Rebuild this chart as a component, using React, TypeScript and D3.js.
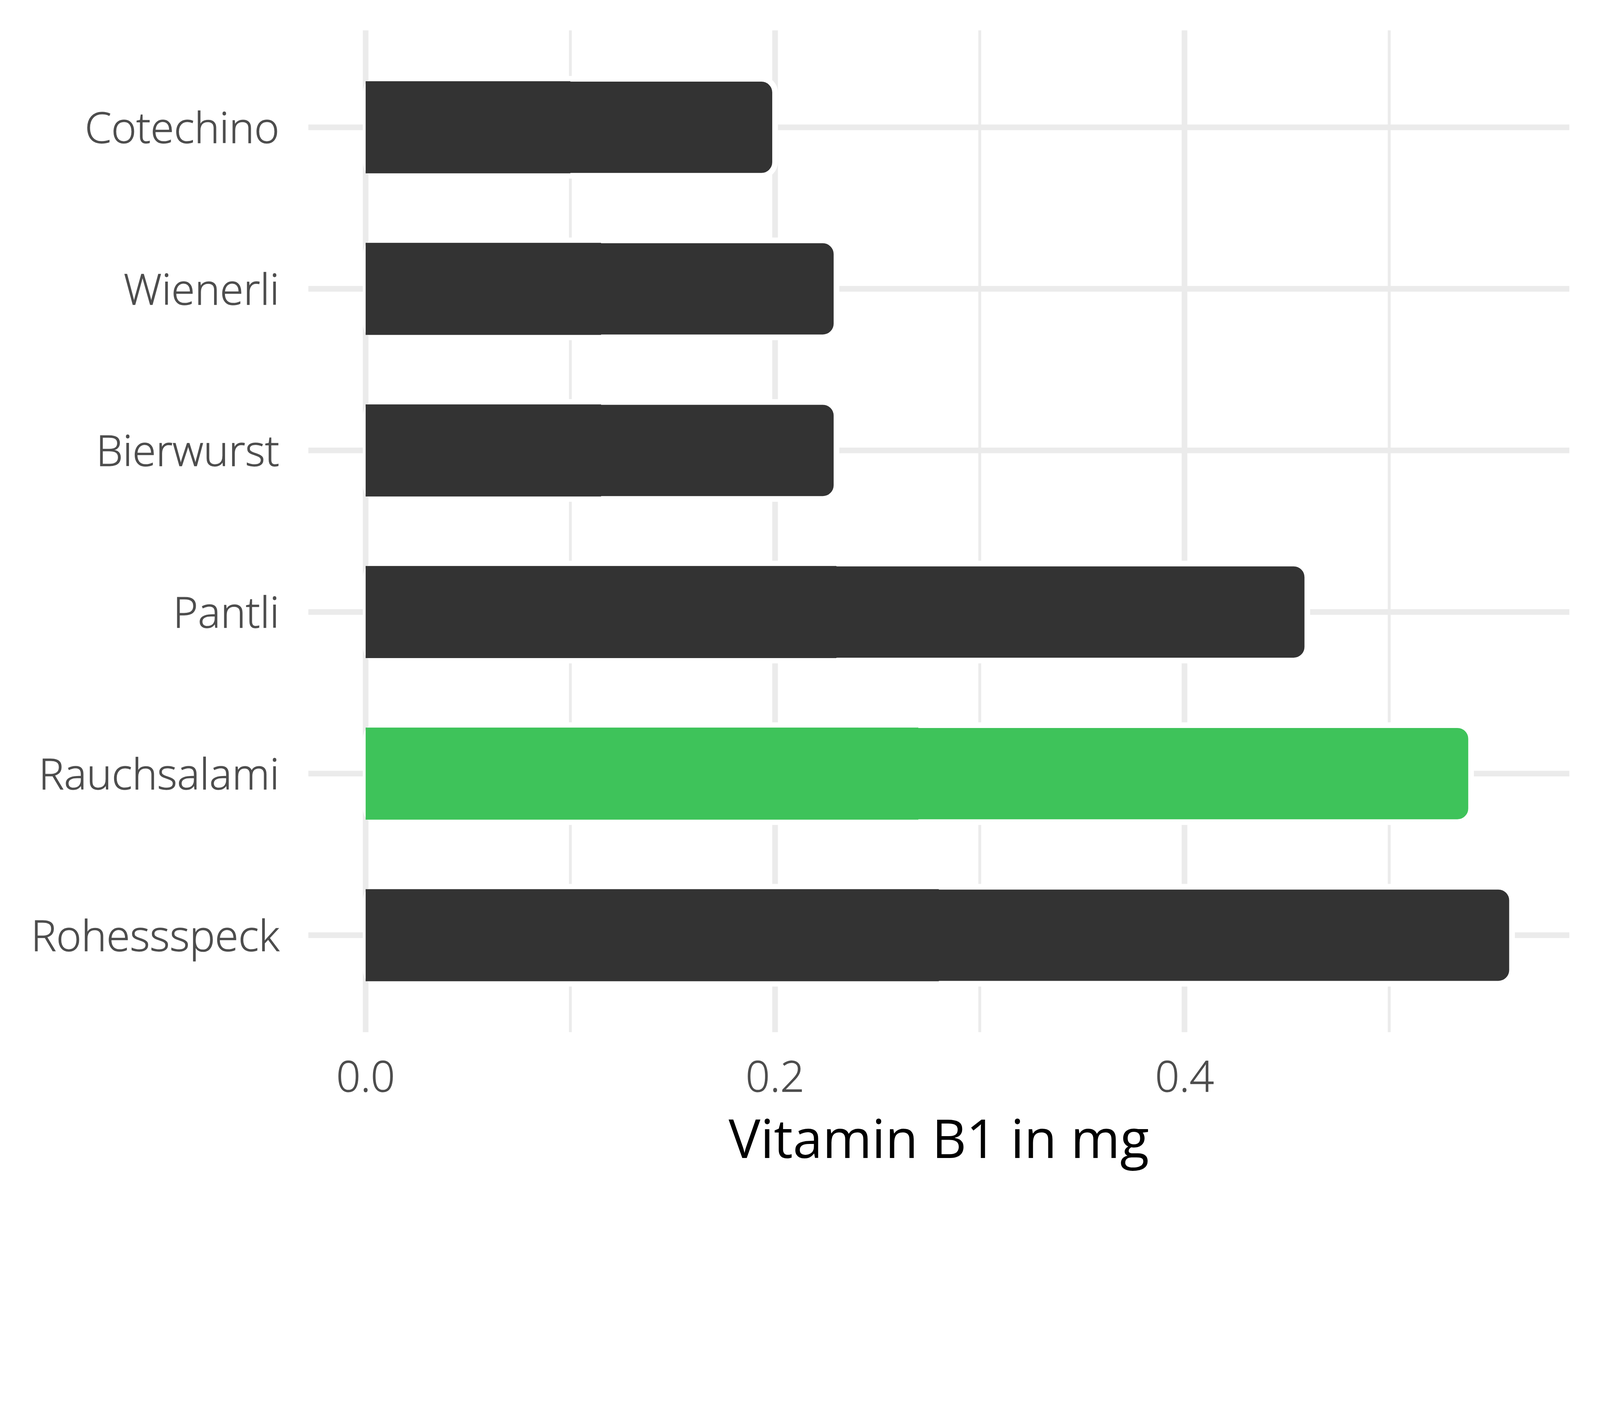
import React from "react";
import * as d3 from "d3";

const categories = ["Cotechino", "Wienerli", "Bierwurst", "Pantli", "Rauchsalami", "Rohessspeck"];
const values = [0.2, 0.23, 0.23, 0.46, 0.54, 0.56];
const highlight = ["Rauchsalami"];
const majorTicks = [0, 0.2, 0.4];
const minorTicks = [0.1, 0.3, 0.5];
const xTitle = "Vitamin B1 in mg";

const W = 4800;
const H = 3600;
const panel = { left: 925, right: 4708, top: 91, bottom: 3097 };
const FONT = "'Open Sans', 'Noto Sans', sans-serif";

export default function App() {
  const maxV = d3.max(values) as number;
  const pad = maxV * 0.05;
  const x = d3.scaleLinear().domain([-pad, maxV + pad]).range([panel.left, panel.right]);
  const y = d3.scalePoint<string>().domain(categories).range([panel.top, panel.bottom]).padding(0.6);
  const step = y.step();
  const barH = step * 0.6;
  const sw = 17;
  const rx = 41;
  const x0 = x(0);

  return (
    <svg
      viewBox={`0 0 ${W} ${H}`}
      preserveAspectRatio="xMinYMin meet"
      style={{ position: "fixed", left: 0, top: 0, width: "100vw", height: "100vh", background: "#fff", display: "block" }}
    >
      <rect x={0} y={0} width={W} height={H} fill="#ffffff" />
      {minorTicks.map((t) => (
        <line key={"mi" + t} x1={x(t)} x2={x(t)} y1={panel.top} y2={panel.bottom} stroke="#EBEBEB" strokeWidth={8.5} />
      ))}
      {majorTicks.map((t) => (
        <line key={"ma" + t} x1={x(t)} x2={x(t)} y1={panel.top} y2={panel.bottom} stroke="#EBEBEB" strokeWidth={17} />
      ))}
      {categories.map((c) => (
        <line key={"h" + c} x1={panel.left} x2={panel.right} y1={y(c)} y2={y(c)} stroke="#EBEBEB" strokeWidth={17} />
      ))}
      {categories.map((c, i) => {
        const cy = y(c) as number;
        const xe = x(values[i]);
        const fill = highlight.includes(c) ? "#3EC35A" : "#333333";
        const innerHalf = barH / 2 - sw / 2 + 1.2;
        return (
          <g key={"b" + c}>
            <rect x={x0} y={cy - barH / 2} width={xe - x0} height={barH} rx={rx} ry={rx} fill={fill} stroke="#ffffff" strokeWidth={sw} />
            <rect x={x0} y={cy - innerHalf} width={(xe - x0) / 2} height={innerHalf * 2} fill={fill} />
          </g>
        );
      })}
      {categories.map((c) => (
        <text key={"t" + c} x={838} y={(y(c) as number) + 47} textAnchor="end" fontFamily={FONT} fontWeight={300} fontSize={128} fill="#4D4D4D" stroke="#4D4D4D" strokeWidth={1.6}>
          {c}
        </text>
      ))}
      {majorTicks.map((t) => (
        <text key={"xt" + t} x={x(t)} y={3275} textAnchor="middle" fontFamily={FONT} fontWeight={300} fontSize={128} fill="#4D4D4D" stroke="#4D4D4D" strokeWidth={1.6}>
          {d3.format(".1f")(t)}
        </text>
      ))}
      <text x={(panel.left + panel.right) / 2} y={3475} textAnchor="middle" fontFamily={FONT} fontWeight={400} fontSize={160} fill="#000000">
        {xTitle}
      </text>
    </svg>
  );
}
